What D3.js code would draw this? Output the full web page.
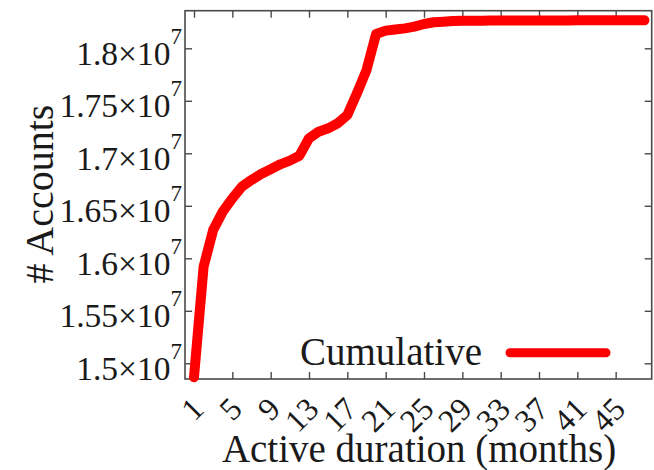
<!DOCTYPE html>
<html>
<head>
<meta charset="utf-8">
<script src="https://cdn.jsdelivr.net/npm/d3@7"></script>
<style>
  html, body { margin: 0; padding: 0; background: #fff; }
  svg { display: block; }
</style>
</head>
<body>
<svg id="chart" width="654" height="470"></svg>
<script>
// Cumulative number of accounts by active duration (months)
const months = d3.range(1, 49);
const cumulative = [
  1.4868e7, 1.5920e7, 1.6270e7, 1.6444e7, 1.6571e7, 1.6682e7, 1.6746e7, 1.6803e7,
  1.6848e7, 1.6895e7, 1.6930e7, 1.6977e7, 1.7143e7, 1.7206e7, 1.7238e7, 1.7286e7,
  1.7365e7, 1.7571e7, 1.7793e7, 1.8136e7, 1.8168e7, 1.8179e7, 1.8190e7, 1.8206e7,
  1.8231e7, 1.8248e7, 1.8253e7, 1.8260e7, 1.8262e7, 1.8263e7, 1.8263e7, 1.8264e7,
  1.8264e7, 1.8264e7, 1.8265e7, 1.8265e7, 1.8265e7, 1.8265e7, 1.8265e7, 1.8265e7,
  1.8266e7, 1.8266e7, 1.8266e7, 1.8266e7, 1.8266e7, 1.8266e7, 1.8266e7, 1.8266e7
];
const xTicks = [1, 5, 9, 13, 17, 21, 25, 29, 33, 37, 41, 45];
const yTicks = [1.5e7, 1.55e7, 1.6e7, 1.65e7, 1.7e7, 1.75e7, 1.8e7];
const yTickMantissa = ["1.5", "1.55", "1.6", "1.65", "1.7", "1.75", "1.8"];
const seriesName = "Cumulative";

const FONT = '"Liberation Serif", "Times New Roman", serif';
const TEXT_COLOR = "#1a1a1a";

const svg = d3.select("#chart");
const plot = { left: 185, top: 10.7, right: 651.7, bottom: 379 };

const x = d3.scaleLinear().domain([0.06, 48.76]).range([plot.left, plot.right]);
const y = d3.scaleLinear().domain([1.48505e7, 1.8358e7]).range([plot.bottom, plot.top]);

const axisColor = "#4a4a4a";

// Frame
svg.append("rect")
  .attr("x", plot.left).attr("y", plot.top)
  .attr("width", plot.right - plot.left).attr("height", plot.bottom - plot.top)
  .attr("fill", "none").attr("stroke", axisColor).attr("stroke-width", 1.6);

// Bottom axis with rotated labels
const gx = svg.append("g")
  .attr("transform", `translate(0,${plot.bottom})`)
  .call(d3.axisBottom(x).tickValues(xTicks).tickSizeInner(-7).tickSizeOuter(0).tickFormat(d3.format("d")));
gx.selectAll("text")
  .attr("x", null).attr("y", null).attr("dy", null)
  .attr("transform", "translate(11,32) rotate(-45)")
  .attr("text-anchor", "end")
  .style("font-family", FONT)
  .style("fill", TEXT_COLOR)
  .style("font-size", "32px");

// Top mirrored ticks
svg.append("g")
  .attr("transform", `translate(0,${plot.top})`)
  .call(d3.axisTop(x).tickValues(xTicks).tickSizeInner(-7).tickSizeOuter(0).tickFormat(""));

// Left axis with scientific labels
const gy = svg.append("g")
  .attr("transform", `translate(${plot.left},0)`)
  .call(d3.axisLeft(y).tickValues(yTicks).tickSizeInner(-7).tickSizeOuter(0).tickPadding(3).tickFormat(""));
gy.selectAll(".tick text")
  .attr("dy", null).attr("y", 16)
  .attr("text-anchor", "end")
  .style("font-family", FONT)
  .style("fill", TEXT_COLOR)
  .each(function(d, i) {
    const t = d3.select(this);
    t.append("tspan").style("font-size", "33.5px").text(yTickMantissa[i] + "\u00d710");
    t.append("tspan").attr("dy", -21).style("font-size", "23px").text("7");
  });

// Right mirrored ticks
svg.append("g")
  .attr("transform", `translate(${plot.right},0)`)
  .call(d3.axisRight(y).tickValues(yTicks).tickSizeInner(-7).tickSizeOuter(0).tickFormat(""));

svg.selectAll(".domain").remove();
svg.selectAll(".tick line").attr("stroke", axisColor).attr("stroke-width", 1.4);

// Axis titles
svg.append("text")
  .attr("x", 419).attr("y", 462)
  .attr("text-anchor", "middle")
  .style("font-family", FONT).style("fill", TEXT_COLOR)
  .style("font-size", "39px")
  .text("Active duration (months)");

svg.append("text")
  .attr("transform", "translate(53,194) rotate(-90)")
  .attr("text-anchor", "middle")
  .style("font-family", FONT).style("fill", TEXT_COLOR)
  .style("font-size", "40px")
  .text("# Accounts");

// Series line
const line = d3.line().x((d, i) => x(months[i])).y(d => y(d));
svg.append("path")
  .datum(cumulative)
  .attr("d", line)
  .attr("fill", "none")
  .attr("stroke", "#ff0000")
  .attr("stroke-width", 10)
  .attr("stroke-linejoin", "round")
  .attr("stroke-linecap", "round");

// Legend
svg.append("text")
  .attr("x", 482).attr("y", 365)
  .attr("text-anchor", "end")
  .style("font-family", FONT).style("fill", TEXT_COLOR)
  .style("font-size", "39px")
  .text(seriesName);
svg.append("line")
  .attr("x1", 510).attr("x2", 606)
  .attr("y1", 352.7).attr("y2", 352.7)
  .attr("stroke", "#ff0000")
  .attr("stroke-width", 9)
  .attr("stroke-linecap", "round");
</script>
</body>
</html>
